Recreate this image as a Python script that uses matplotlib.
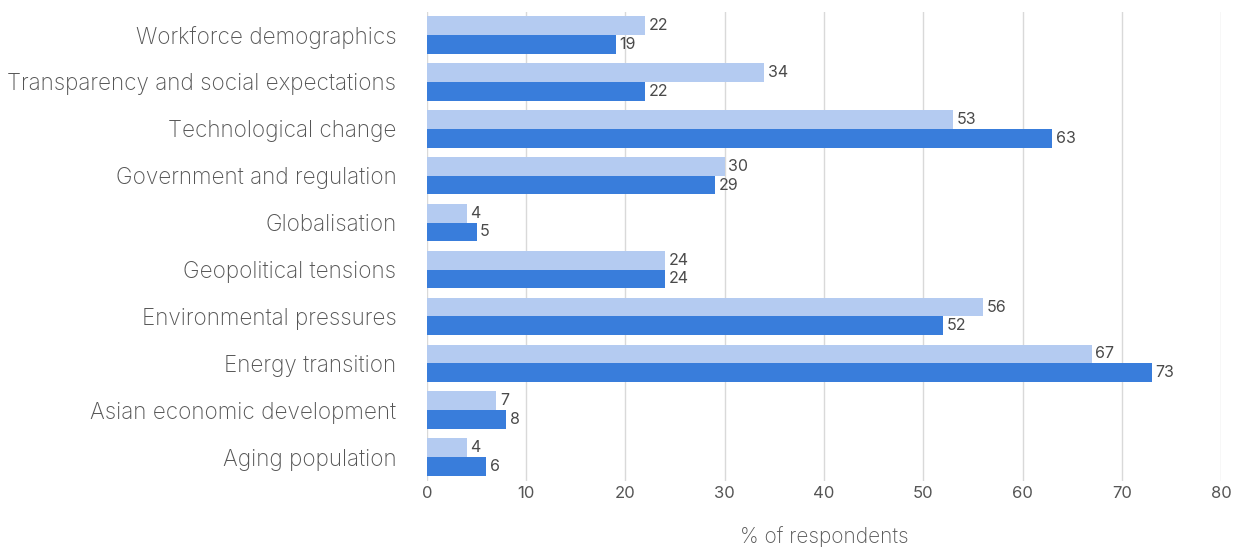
import matplotlib
matplotlib.use("Agg")
import matplotlib.pyplot as plt
import numpy as np

# Share of respondents naming each driver, two survey waves
categories = [
    "Workforce demographics",
    "Transparency and social expectations",
    "Technological change",
    "Government and regulation",
    "Globalisation",
    "Geopolitical tensions",
    "Environmental pressures",
    "Energy transition",
    "Asian economic development",
    "Aging population",
]
series_light = [22, 34, 53, 30, 4, 24, 56, 67, 7, 4]
series_dark = [19, 22, 63, 29, 5, 24, 52, 73, 8, 6]
xticks = [0, 10, 20, 30, 40, 50, 60, 70, 80]

plt.rcParams["font.family"] = ["Inter", "DejaVu Sans"]

fig = plt.figure(figsize=(12.35, 5.48), dpi=100)
ax = fig.add_axes([0.3457, 0.123, 0.643, 0.856])

y = np.arange(len(categories))
h = 0.4
bl = ax.barh(y - h / 2, series_light, height=h, color="#b4cbf1", zorder=2)
bd = ax.barh(y + h / 2, series_dark, height=h, color="#397ddb", zorder=2)

for bars, vals in ((bl, series_light), (bd, series_dark)):
    for b, v in zip(bars, vals):
        ax.text(b.get_width() + 0.35, b.get_y() + b.get_height() / 2, f"{v}",
                va="center", ha="left", fontsize=11.5, color="#4a4a4a")

ax.set_ylim(len(categories) - 0.5, -0.5)
ax.set_xlim(0, 80)
ax.set_xticks(xticks)
ax.set_yticks(y)
ax.set_yticklabels(categories, fontsize=16.2, color="#555555", fontweight="light")
ax.tick_params(axis="y", length=0, pad=22)
ax.tick_params(axis="x", length=0, pad=4, labelsize=12, labelcolor="#555555")
ax.xaxis.grid(True, color="#d9d9d9", linewidth=1, zorder=0)
for s in ax.spines.values():
    s.set_visible(False)
ax.set_xlabel("% of respondents", fontsize=15, color="#555555",
              fontweight="light", labelpad=18)

fig.savefig("out.png", dpi=100)
